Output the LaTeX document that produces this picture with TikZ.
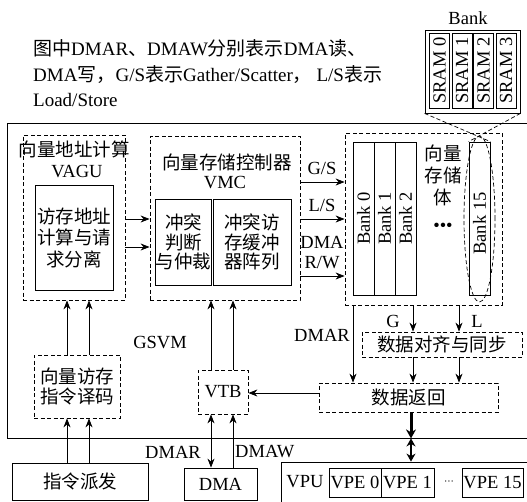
\documentclass[tikz,border=0pt]{standalone}
\usepackage{fontspec}
\setmainfont{Liberation Serif}
\newfontfamily\cjk{Noto Sans CJK SC}
\usetikzlibrary{arrows.meta,shapes.geometric}
\newcommand{\zh}[1]{{\cjk #1}}
\begin{document}
\begin{tikzpicture}[x=1pt,y=-1pt,
  every node/.style={font=\fontsize{18.5}{21}\selectfont, inner sep=0pt},
  box/.style={draw, line width=0.8pt, rectangle},
  dbox/.style={box, dash pattern=on 4pt off 2.5pt},
  dline/.style={line width=0.7pt, dash pattern=on 4pt off 2.5pt},
  arr/.style={line width=0.8pt, -{Stealth[length=9pt,width=7pt]}},
  darr/.style={line width=0.8pt, {Stealth[length=9pt,width=7pt]}-{Stealth[length=9pt,width=7pt]}},
  zhf/.style={font=\fontsize{18.5}{21.5}\selectfont\cjk},
  zhs/.style={font=\fontsize{18.5}{19.5}\selectfont\cjk},
  zhw/.style={font=\fontsize{18.5}{22}\selectfont\cjk},
  topt/.style={font=\fontsize{19}{22}\selectfont, anchor=west},
]
\useasboundingbox (0,0) rectangle (527,501);

% column / row coordinates
\coordinate (ya) at (0,219);
\coordinate (yb) at (0,247);
\coordinate (ygs) at (0,182);
\coordinate (yls) at (0,219);
\coordinate (yrw) at (0,276);
\coordinate (yr) at (0,393);
\coordinate (xg) at (413,0);
\coordinate (xl) at (459,0);
\coordinate (xd) at (353,0);
\coordinate (xv1) at (211,0);
\coordinate (xv2) at (233,0);
\coordinate (xc1) at (67,0);
\coordinate (xc2) at (89,0);
\coordinate (xt) at (411,0);

% top text
\node[topt] (t1) at (33,48) {\zh{图中}DMAR\zh{、}DMAW\zh{分别表示}DMA\zh{读、}};
\node[topt] (t2) at (33,75) {DMA\zh{写，}G/S\zh{表示}Gather/Scatter\zh{，} L/S\zh{表示}};
\node[topt] (t3) at (33,100) {Load/Store};

% main GSVM box
\node[box, minimum width=540pt, minimum height=315pt] (gsvm) at (277,280.5) {};
\node (gsvmlbl) at (160,343) {GSVM};

% Bank detail
\node (banklbl) at (468,18) {Bank};
\node[box, minimum width=95pt, minimum height=83pt] (bankbox) at (472.5,71.5) {};
\foreach \i/\x in {0/439.5,1/462,2/483.5,3/506}{
  \node[box, minimum width=20pt, minimum height=75pt] (sram\i) at (\x,70.5) {};
  \node[rotate=90] (sramt\i) at (sram\i) {SRAM \i};
}

% VAGU
\node[dbox, minimum width=102pt, minimum height=165pt] (vagu) at (74,217.5) {};
\node[zhf] (vagut) at (74,149) {向量地址计算};
\node (vagun) at (77,172) {VAGU};
\node[box, minimum width=78pt, minimum height=105pt, zhf, align=center] (addr) at (74,237.5) {访存地址\\计算与请\\求分离};

% VMC
\node[dbox, minimum width=150pt, minimum height=164pt] (vmc) at (225,218) {};
\node[zhf] (vmct) at (227,162) {向量存储控制器};
\node (vmcn) at (225,183) {VMC};
\node[box, minimum width=47pt, minimum height=86pt, zhs, align=center] (conf) at (183.5,242) {冲突\\判断\\与仲裁};
\node[box, minimum width=78pt, minimum height=86pt, zhs, align=center] (buf) at (252,242) {冲突访\\存缓冲\\器阵列};

% memory
\node[dbox, minimum width=157pt, minimum height=172pt] (mem) at (423.5,219) {};
\foreach \i/\x in {0/363.5,1/384.5,2/405.5}{
  \node[box, minimum width=21pt, minimum height=153pt] (bank\i) at (\x,218.5) {};
  \node[rotate=90] (bankt\i) at (bank\i) {Bank \i};
}
\node[box, minimum width=21pt, minimum height=153pt] (bank15) at (479.5,218.5) {};
\node[rotate=90] (bankt15) at ([yshift=-5pt]bank15.center) {Bank 15};
\node[ellipse, draw, dline, minimum width=31pt, minimum height=166pt] (ell) at (479.5,219) {};
\node[zhw, align=center] (memt) at (443,175) {向量\\存储\\体};
\node (dots) at (443,227) {•••};

\draw[dline] (bankbox.south west) -- (bank15.north east);
\draw[dline] (bankbox.south east) -- (bank15.north west);

% VAGU -> VMC
\draw[arr] (vagu.east |- ya) -- (vmc.west |- ya);
\draw[arr] (vagu.east |- yb) -- (vmc.west |- yb);

% VMC -> memory
\draw[arr] (vmc.east |- ygs) -- (mem.west |- ygs);
\draw[arr] (vmc.east |- yls) -- (mem.west |- yls);
\draw[arr] (vmc.east |- yrw) -- (mem.west |- yrw);
\node (gs) at (322,168) {G/S};
\node (ls) at (322,205) {L/S};
\node (dmal) at (322,242) {DMA};
\node (rw) at (322,263) {R/W};

% align and return
\node[dbox, minimum width=160pt, minimum height=25pt, zhf] (align) at (442,344.5) {数据对齐与同步};
\node[dbox, minimum width=179pt, minimum height=29pt, zhf] (ret) at (408.5,397.5) {数据返回};
\draw[arr] (mem.south -| xg) -- (align.north -| xg);
\draw[arr] (mem.south -| xl) -- (align.north -| xl);
\draw[arr] (align.south -| xg) -- (ret.north -| xg);
\draw[arr] (align.south -| xl) -- (ret.north -| xl);
\draw[arr] (mem.south -| xd) -- (ret.north -| xd);
\node (glbl) at (393,321) {G};
\node (llbl) at (477,321) {L};
\node (dmarr) at (322,335) {DMAR};

% VTB
\node[dbox, minimum width=50pt, minimum height=44pt] (vtb) at (223,392) {VTB};
\draw[arr] (ret.west |- yr) -- (vtb.east |- yr);
\draw[arr] (vtb.north -| xv1) -- (vmc.south -| xv1);
\draw[arr] (vtb.north -| xv2) -- (vmc.south -| xv2);

% DMA
\node[box, minimum width=73pt, minimum height=32pt] (dma) at (220.5,484) {DMA};
\draw[darr] (vtb.south -| xv1) -- (dma.north -| xv1);
\draw[arr] (dma.north -| xv2) -- (vtb.south -| xv2);
\node (dmarl) at (173,452) {DMAR};
\node[anchor=west] (dmawl) at (235,452) {DMAW};

% decode and dispatch
\node[dbox, minimum width=86pt, minimum height=63pt, font=\fontsize{18.5}{20}\selectfont\cjk, align=center] (dec) at (77,386.5) {向量访存\\指令译码};
\node[box, minimum width=136pt, minimum height=37pt, zhf] (disp) at (80,481.5) {指令派发};
\draw[arr] (disp.north -| xc1) -- (dec.south -| xc1);
\draw[arr] (disp.north -| xc2) -- (dec.south -| xc2);
\draw[arr] (dec.north -| xc1) -- (vagu.south -| xc1);
\draw[arr] (dec.north -| xc2) -- (vagu.south -| xc2);

% VPU
\node[box, minimum width=270pt, minimum height=50pt] (vpu) at (416,487) {};
\node (vput) at (305,482) {VPU};
\node[box, minimum width=52pt, minimum height=29pt] (vpe0) at (355,482.5) {VPE 0};
\node[box, minimum width=53pt, minimum height=29pt] (vpe1) at (407.5,482.5) {VPE 1};
\node (vdots) at (449,482) {$\scriptstyle\cdots$};
\node[box, minimum width=61pt, minimum height=29pt] (vpe15) at (492.5,482.5) {VPE 15};

% thick data path
\draw[line width=3pt, -{Stealth[length=9pt,width=10pt]}] (ret.south -| xt) -- (gsvm.south -| xt);
\draw[line width=2pt, {Stealth[length=8pt,width=9pt]}-{Stealth[length=8pt,width=9pt]}] (gsvm.south -| xt) -- (vpu.north -| xt);
\end{tikzpicture}
\end{document}
